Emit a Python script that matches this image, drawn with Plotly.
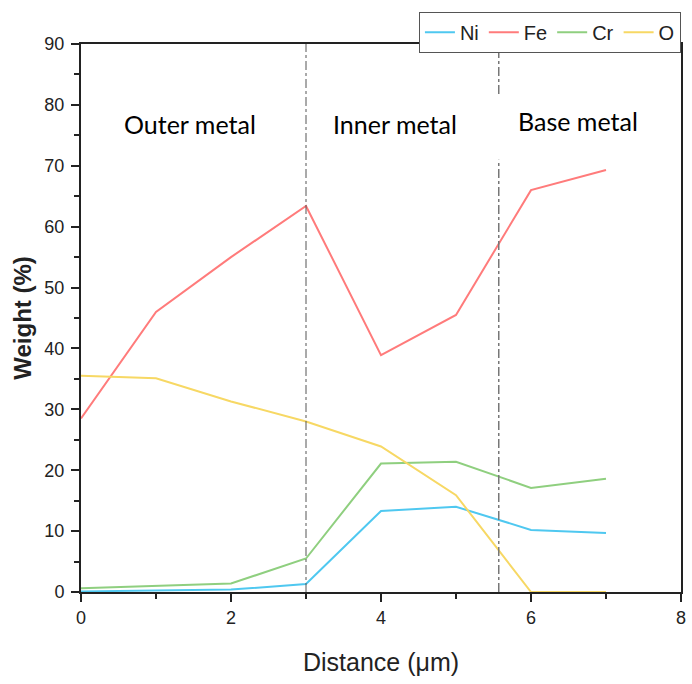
import plotly.graph_objects as go

distance = [0, 1, 2, 3, 4, 5, 6, 7]
ni = [0.1, 0.2, 0.4, 1.3, 13.3, 14.0, 10.2, 9.7]
fe = [28.5, 46.0, 55.0, 63.4, 38.9, 45.5, 66.0, 69.3]
cr = [0.6, 1.0, 1.4, 5.5, 21.1, 21.4, 17.1, 18.6]
o = [35.5, 35.1, 31.3, 28.0, 23.9, 15.9, 0.0, 0.0]

series = [("Ni", ni, "#4fc8f0"), ("Fe", fe, "#ff7b7b"), ("Cr", cr, "#8fcf7f"), ("O", o, "#f7d864")]

boundaries = [3, 5.57]
regions = [("Outer metal", 1.45, 76.8), ("Inner metal", 4.19, 76.9), ("Base metal", 6.62, 77.4)]

fig = go.Figure()
for name, vals, col in series:
    fig.add_trace(go.Scatter(x=distance, y=vals, mode="lines", name=name,
                             line=dict(color=col, width=2)))

# vertical dividers
fig.add_shape(type="line", x0=boundaries[0], x1=boundaries[0], y0=0, y1=90,
              xref="x", yref="y", line=dict(color="#555", width=1, dash="dashdot"))
fig.add_shape(type="line", x0=boundaries[1], x1=boundaries[1], y0=81.8, y1=90,
              xref="x", yref="y", line=dict(color="#777", width=1.5, dash="dashdot"))
fig.add_shape(type="line", x0=boundaries[1], x1=boundaries[1], y0=0, y1=71,
              xref="x", yref="y", line=dict(color="#777", width=1.5, dash="dashdot"))

for txt, xv, yv in regions:
    fig.add_annotation(x=xv, y=yv, xref="x", yref="y", text=txt, showarrow=False,
                       font=dict(family="Lato, Open Sans, sans-serif", size=25, color="black"))

fig.update_layout(
    width=692, height=684,
    margin=dict(l=81, r=11, t=44, b=92, autoexpand=False),
    plot_bgcolor="white", paper_bgcolor="white",
    font=dict(family="Liberation Sans, Arial, sans-serif", color="#222"),
    legend=dict(orientation="h", xref="container", x=0.984, xanchor="right",
                yref="container", y=0.983, yanchor="top",
                bordercolor="#555", borderwidth=1, font=dict(size=20, color="#222"),
                tracegroupgap=0, itemwidth=30),
    xaxis=dict(range=[0, 8], tickvals=[0, 2, 4, 6, 8], showgrid=False, zeroline=False,
               automargin=False,
               showline=True, linecolor="#222", linewidth=2, mirror=True,
               ticks="outside", ticklen=8, tickwidth=2, tickcolor="#222",
               minor=dict(tickvals=[1, 3, 5, 7], ticks="outside", ticklen=5, tickwidth=2, tickcolor="#222"),
               tickfont=dict(size=18, color="#222"),
               title=dict(text="Distance (\u03bcm)", font=dict(size=25, color="#222"), standoff=27)),
    yaxis=dict(range=[0, 90], tickvals=list(range(0, 91, 10)), showgrid=False, zeroline=False,
               automargin=False,
               showline=True, linecolor="#222", linewidth=2, mirror=True,
               ticks="outside", ticklen=8, tickwidth=2, tickcolor="#222",
               minor=dict(tickvals=list(range(5, 90, 10)), ticks="outside", ticklen=5, tickwidth=2, tickcolor="#222"),
               tickfont=dict(size=18, color="#222"), ticklabelstandoff=3,
               title=dict(text="<b>Weight (%)</b>", font=dict(size=24, color="#222"), standoff=6)),
)

fig.write_html("out.html")
